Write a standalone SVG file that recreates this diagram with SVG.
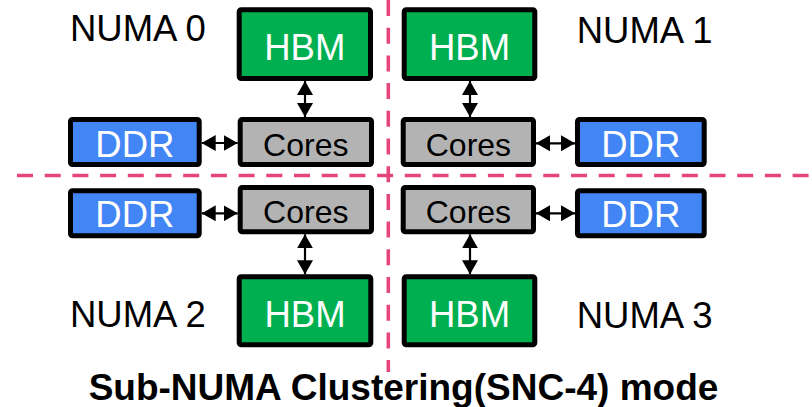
<svg xmlns="http://www.w3.org/2000/svg" width="812" height="407" viewBox="0 0 812 407">
  <style>
    .box { stroke: #000; stroke-width: 5; rx: 2; }
    .hbm { fill: #00b050; }
    .ddr { fill: #4285f4; }
    .cores { fill: #b3b3b3; }
    .lbl { font-family: "Liberation Sans", Arial, sans-serif; text-anchor: middle; }
    .white { fill: #fff; font-size: 36.5px; }
    .dark { fill: #000; font-size: 32px; }
    .numa { font-family: "Liberation Sans", Arial, sans-serif; font-size: 36.5px; fill: #000; }
    .divider { stroke: #e6457a; stroke-width: 3.5; stroke-dasharray: 16 11.7; fill: none; }
    .link { stroke: #000; stroke-width: 2.2; fill: none; marker-start: url(#head); marker-end: url(#head); }
    .title { font-family: "Liberation Sans", Arial, sans-serif; font-weight: bold; font-size: 37px; fill: #000; text-anchor: middle; }
  </style>
  <defs>
    <marker id="head" markerUnits="userSpaceOnUse" markerWidth="14" markerHeight="16" refX="14" refY="8" orient="auto-start-reverse">
      <path d="M0,0 L14,8 L0,16 z" fill="#000"/>
    </marker>
  </defs>

  <rect width="812" height="407" fill="#fff"/>

  <!-- quadrant dividers -->
  <g id="dividers">
    <line class="divider" x1="17" y1="175.5" x2="812" y2="175.5"/>
    <line class="divider" x1="388.3" y1="0" x2="388.3" y2="372"/>
  </g>

  <!-- NUMA 0 -->
  <g id="numa0">
    <text class="numa" x="70" y="41">NUMA 0</text>
    <g id="hbm0"><rect class="box hbm" x="239.2" y="9.8" width="131.3" height="68.7"/><text class="lbl white" x="304.8" y="60">HBM</text></g>
    <g id="cores0"><rect class="box cores" x="240.2" y="119.5" width="131.3" height="45"/><text class="lbl dark" x="305.8" y="156">Cores</text></g>
    <g id="ddr0"><rect class="box ddr" x="70.5" y="119.5" width="128.7" height="45"/><text class="lbl white" x="134.9" y="156.7">DDR</text></g>
  </g>

  <!-- NUMA 1 -->
  <g id="numa1">
    <text class="numa" x="576.7" y="43.3">NUMA 1</text>
    <g id="hbm1"><rect class="box hbm" x="404.2" y="9.8" width="130.6" height="68.7"/><text class="lbl white" x="469.5" y="60">HBM</text></g>
    <g id="cores1"><rect class="box cores" x="403.2" y="119.5" width="130.3" height="45"/><text class="lbl dark" x="468.4" y="156">Cores</text></g>
    <g id="ddr1"><rect class="box ddr" x="577.5" y="119.5" width="126.7" height="45"/><text class="lbl white" x="640.8" y="156.7">DDR</text></g>
  </g>

  <!-- NUMA 2 -->
  <g id="numa2">
    <text class="numa" x="70" y="326.7">NUMA 2</text>
    <g id="ddr2"><rect class="box ddr" x="70.5" y="190.8" width="128.7" height="45"/><text class="lbl white" x="134.9" y="227.2">DDR</text></g>
    <g id="cores2"><rect class="box cores" x="240.2" y="187.5" width="131.3" height="44.3"/><text class="lbl dark" x="305.8" y="222.7">Cores</text></g>
    <g id="hbm2"><rect class="box hbm" x="239.2" y="276.8" width="131.6" height="68"/><text class="lbl white" x="305" y="326.7">HBM</text></g>
  </g>

  <!-- NUMA 3 -->
  <g id="numa3">
    <text class="numa" x="576.7" y="328.3">NUMA 3</text>
    <g id="cores3"><rect class="box cores" x="403.2" y="187.5" width="130.3" height="44.3"/><text class="lbl dark" x="468.4" y="222.7">Cores</text></g>
    <g id="ddr3"><rect class="box ddr" x="577.5" y="190.8" width="126.7" height="45"/><text class="lbl white" x="640.8" y="227.2">DDR</text></g>
    <g id="hbm3"><rect class="box hbm" x="404.2" y="276.8" width="130.6" height="68"/><text class="lbl white" x="469.5" y="326.7">HBM</text></g>
  </g>

  <!-- bidirectional links -->
  <g id="connectors">
    <line class="link" x1="305" y1="81" x2="305" y2="117"/>
    <line class="link" x1="201.7" y1="143" x2="237.7" y2="143"/>
    <line class="link" x1="470" y1="81" x2="470" y2="117"/>
    <line class="link" x1="536" y1="143.3" x2="575" y2="143.3"/>
    <line class="link" x1="305" y1="234.3" x2="305" y2="274.3"/>
    <line class="link" x1="201.7" y1="213.3" x2="237.7" y2="213.3"/>
    <line class="link" x1="470" y1="234.3" x2="470" y2="274.3"/>
    <line class="link" x1="536" y1="213.3" x2="575" y2="213.3"/>
  </g>

  <text class="title" x="403.5" y="399.5">Sub-NUMA Clustering(SNC-4) mode</text>
</svg>
